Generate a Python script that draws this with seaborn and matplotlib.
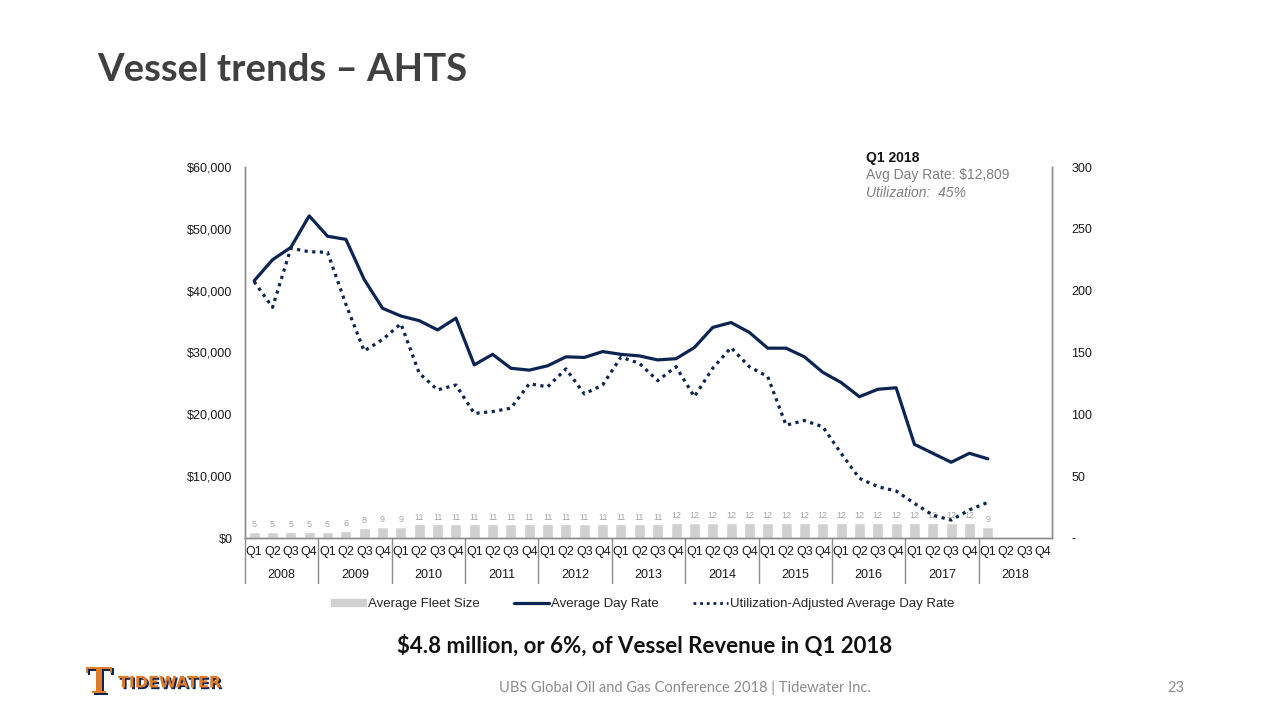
"""Vessel trends - AHTS: fleet size bars with day rate lines on a twin axis."""

import matplotlib.pyplot as plt
import matplotlib.patheffects as pe
import matplotlib.transforms as mtransforms
import numpy as np
import pandas as pd
import seaborn as sns
from matplotlib.lines import Line2D
from matplotlib.patches import Patch

years = [str(y) for y in range(2008, 2019)]
quarter_names = ["Q1", "Q2", "Q3", "Q4"]

# average day rate, 2008 Q1 .. 2018 Q1
day_rate = [
    41600, 45000, 47000, 52100,
    48800, 48300, 41800, 37150,
    35900, 35150, 33650, 35550,
    28000, 29700, 27450, 27150,
    27850, 29300, 29200, 30150,
    29700, 29450, 28800, 29000,
    30800, 34050, 34850, 33250,
    30700, 30700, 29300, 26800,
    25150, 22850, 24050, 24300,
    15150, 13700, 12250, 13700,
    12809,
]

# utilization-adjusted average day rate
adj_rate = [
    41450, 37300, 46850, 46300,
    46200, 37800, 30250, 32100,
    34650, 26650, 23950, 24750,
    20150, 20450, 21000, 24950,
    24450, 27350, 23300, 24750,
    29250, 28250, 25450, 27700,
    22850, 27450, 30800, 27700,
    26100, 18250, 19000, 18000,
    13700, 9650, 8300, 7600,
    5600, 3700, 2900, 4550,
    5764,
]

fleet_size = [
    5, 5, 5, 5,
    5, 6, 8, 9,
    9, 11, 11, 11,
    11, 11, 11, 11,
    11, 11, 11, 11,
    11, 11, 11, 12,
    12, 12, 12, 12,
    12, 12, 12, 12,
    12, 12, 12, 12,
    12, 12, 12, 12,
    9,
]

NAVY = "#0c2451"
BAR = "#d0d0d0"
GRID = "#8c8c8c"

all_quarters = [f"{y} {q}" for y in years for q in quarter_names]
n_all = len(all_quarters)
df = pd.DataFrame({
    "quarter": all_quarters[: len(day_rate)],
    "pos": np.arange(len(day_rate)),
    "fleet": fleet_size,
    "rate": day_rate,
    "adj": adj_rate,
})

sns.set_style("white")
plt.rcParams["font.family"] = ["Liberation Sans", "DejaVu Sans"]

fig = plt.figure(figsize=(12.8, 7.2), dpi=100)
ax = fig.add_axes([245 / 1280, 1 - 538 / 720, 807 / 1280, 371 / 720])
ax2 = ax.twinx()

# bars on the right-hand axis
sns.barplot(data=df, x="quarter", y="fleet", order=all_quarters, ax=ax2,
            color=BAR, saturation=1, width=0.6, errorbar=None)
ax2.bar_label(ax2.containers[0], padding=2, fontsize=6.5, color="#a6a6a6")
ax2.set_ylim(0, 300)
ax2.set_yticks(range(0, 301, 50))
ax2.set_yticklabels(["-"] + [str(v) for v in range(50, 301, 50)])
ax2.set_ylabel("")

# lines on the left-hand axis, drawn above bars
dots = (0, (1, 1.4))
sns.lineplot(data=df, x="pos", y="rate", ax=ax, color=NAVY, lw=2.3)
sns.lineplot(data=df, x="pos", y="adj", ax=ax, color=NAVY, lw=2.3,
             linestyle=dots)
ax.set_zorder(ax2.get_zorder() + 1)
ax.patch.set_visible(False)

ax.set_ylim(0, 60000)
ax.set_yticks(range(0, 60001, 10000))
ax.set_yticklabels([f"${v:,.0f}" for v in range(0, 60001, 10000)])
ax.set_xlim(-0.5, n_all - 0.5)
ax.set_xticks(range(n_all))
ax.set_xticklabels(quarter_names * len(years))
ax.set_xlabel("")
ax.set_ylabel("")

for a in (ax, ax2):
    a.spines["top"].set_visible(False)
    for s in ("left", "right", "bottom"):
        a.spines[s].set_color(GRID)
        a.spines[s].set_linewidth(1)
    a.tick_params(length=0, labelsize=9, labelcolor="#1a1a1a")
ax.tick_params(axis="y", pad=9)
ax.tick_params(axis="x", pad=6)
ax2.tick_params(axis="y", pad=14)

# year row under the quarter labels
trans = mtransforms.blended_transform_factory(ax.transData, ax.transAxes)
for i, year in enumerate(years):
    ax.text(4 * i + 1.5, -0.1, year, transform=trans, ha="center", va="center",
            fontsize=9, color="#1a1a1a")
for i in range(len(years)):
    ax.plot([4 * i - 0.5] * 2, [0, -0.12], transform=trans, color=GRID,
            lw=1, clip_on=False)

# Q1 2018 call-out
fig.text(866 / 1280, 1 - 158 / 720, "Q1 2018", fontsize=10, fontweight="bold",
         color="#111111", va="center")
fig.text(866 / 1280, 1 - 175 / 720, "Avg Day Rate: $12,809", fontsize=10,
         color="#7f7f7f", va="center")
fig.text(866 / 1280, 1 - 193 / 720, "Utilization:  45%", fontsize=10,
         color="#7f7f7f", va="center", style="italic")

handles = [
    Patch(color=BAR, label="Average Fleet Size"),
    Line2D([], [], color=NAVY, lw=2.3, label="Average Day Rate"),
    Line2D([], [], color=NAVY, lw=2, linestyle=dots,
           label="Utilization-Adjusted Average Day Rate"),
]
fig.legend(handles=handles, loc="center", ncol=3, frameon=False, fontsize=9.5,
           bbox_to_anchor=(643 / 1280, 1 - 604 / 720), handlelength=2.6,
           handleheight=0.5, columnspacing=2.6, handletextpad=0.2)

# slide text
fig.text(97 / 1280, 1 - 70 / 720, "Vessel trends \u2013 AHTS", fontsize=27.5,
         fontweight="bold", color="#404040", va="center", family=["Lato"])
fig.text(645 / 1280, 1 - 646 / 720,
         "$4.8 million, or 6%, of Vessel Revenue in Q1 2018",
         fontsize=16, fontweight="bold", color="#111111", ha="center",
         va="center", family=["Lato"])
fig.text(685 / 1280, 1 - 688 / 720,
         "UBS Global Oil and Gas Conference 2018 | Tidewater Inc.",
         fontsize=10.5, color="#8c8c8c", ha="center", va="center",
         family=["Lato"])
fig.text(1176 / 1280, 1 - 688 / 720, "23", fontsize=10.5, color="#8c8c8c",
         ha="center", va="center", family=["Lato"])

# logo
shadow = [pe.withSimplePatchShadow(offset=(1.2, -1.2), shadow_rgbFace=NAVY,
                                   alpha=1)]
fig.text(99 / 1280, 1 - 683 / 720, "T", fontsize=26, fontweight="bold",
         color="#e07b2a", ha="center", va="center", family=["DejaVu Serif"],
         path_effects=shadow)
fig.text(118 / 1280, 1 - 683 / 720, "TIDEWATER", fontsize=11.5,
         fontweight="heavy", color="#e07b2a", va="center",
         family=["DejaVu Sans"], path_effects=shadow)

fig.savefig("out.png", dpi=100)
